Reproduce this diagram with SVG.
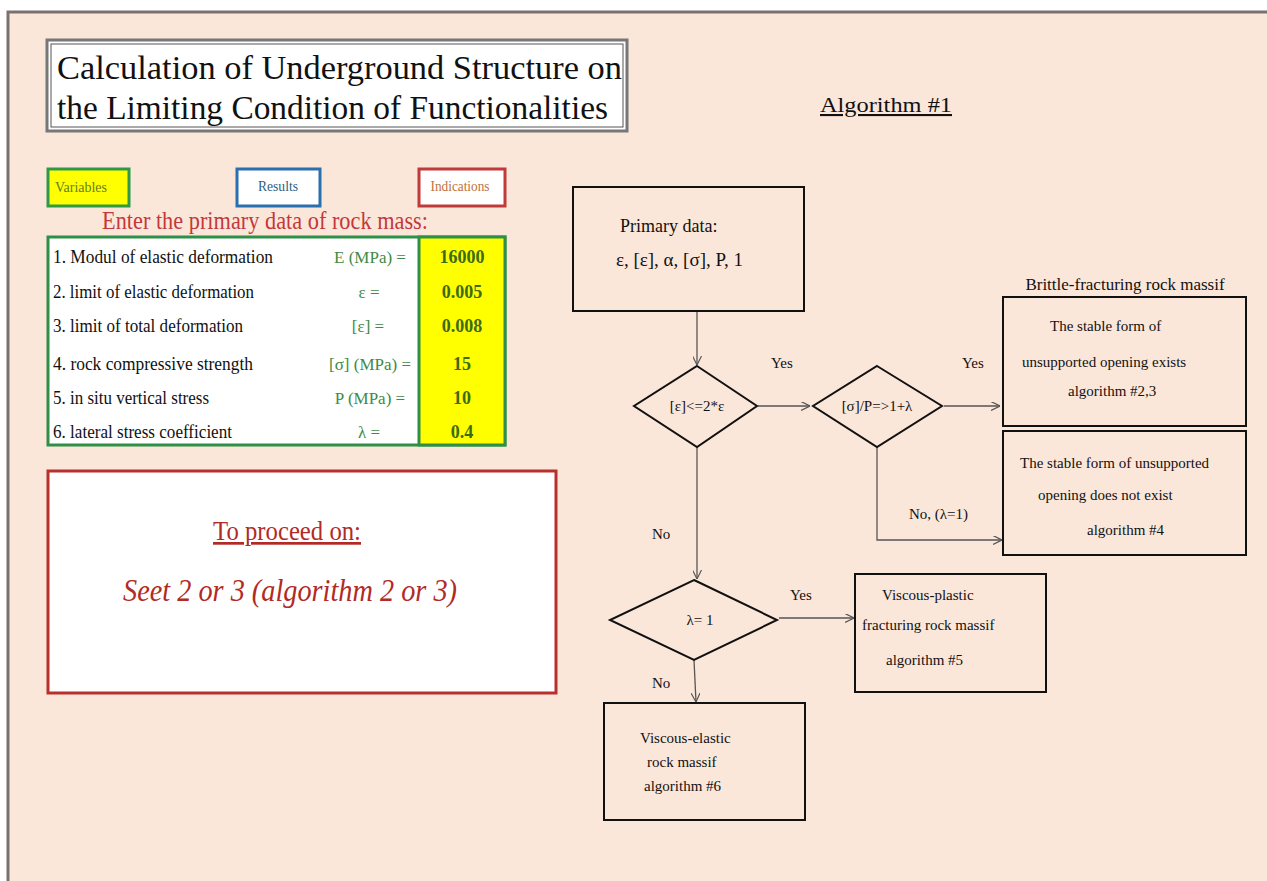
<svg xmlns="http://www.w3.org/2000/svg" width="1267" height="881" viewBox="0 0 1267 881" font-family="'Liberation Serif', 'Times New Roman', Times, serif">
<defs>
<style>
text{font-family:'Liberation Serif','Times New Roman',Times,serif;}
.lbl{font-size:18px;fill:#111;}
.sym{font-size:17px;fill:#3f8a45;text-anchor:middle;}
.val{font-size:18px;fill:#3d6b14;font-weight:bold;text-anchor:middle;}
.box{fill:none;stroke:#111;stroke-width:2;}
.dia{fill:none;stroke:#111;stroke-width:2;}
.fc{font-size:15px;fill:#111;}
.con{fill:none;stroke:#555;stroke-width:1.3;}
</style>
<marker id="ah" viewBox="0 0 10 10" refX="10" refY="5" markerWidth="9" markerHeight="9" orient="auto" markerUnits="userSpaceOnUse">
<path d="M0,0 L10,5 L0,10" fill="none" stroke="#555" stroke-width="1.3"/>
</marker>
</defs>
<rect x="0" y="0" width="1267" height="881" fill="#ffffff"/>
<rect x="8" y="12" width="1275" height="885" fill="#fbe7da" stroke="#7a7272" stroke-width="3"/>

<g id="title">
<rect x="47" y="40" width="580" height="91" fill="#fff" stroke="#777" stroke-width="3"/>
<rect x="51" y="44" width="572" height="83" fill="none" stroke="#555" stroke-width="1"/>
<text x="57" y="79" font-size="34" fill="#111" textLength="565" lengthAdjust="spacingAndGlyphs">Calculation of  Underground Structure on</text>
<text x="57" y="119" font-size="34" fill="#111" textLength="551" lengthAdjust="spacingAndGlyphs">the Limiting Condition of Functionalities</text>
</g>

<g id="algo-title">
<text x="820" y="112" font-size="21" fill="#111" text-decoration="underline" textLength="132" lengthAdjust="spacingAndGlyphs">Algorithm #1</text>
</g>

<g id="legend-variables">
<rect x="48" y="169" width="81" height="37" fill="#ffff00" stroke="#2e9a47" stroke-width="3"/>
<text x="55" y="192" font-size="15" fill="#5f7f22" textLength="52" lengthAdjust="spacingAndGlyphs">Variables</text>
</g>
<g id="legend-results">
<rect x="237" y="169" width="83" height="37" fill="#fff" stroke="#2a6fae" stroke-width="3"/>
<text x="278" y="191" font-size="15" fill="#2e5e80" text-anchor="middle" textLength="40" lengthAdjust="spacingAndGlyphs">Results</text>
</g>
<g id="legend-indications">
<rect x="419" y="169" width="86" height="37" fill="#fff" stroke="#c03a3a" stroke-width="3"/>
<text x="460" y="191" font-size="15" fill="#c0703a" text-anchor="middle" textLength="59" lengthAdjust="spacingAndGlyphs">Indications</text>
</g>

<g id="enter-heading">
<text x="102" y="229" font-size="25" fill="#c4373a" textLength="326" lengthAdjust="spacingAndGlyphs">Enter the primary data of rock mass:</text>
</g>

<g id="data-table">
<rect x="48" y="237" width="457" height="208" fill="#ffffff" stroke="#2e8f47" stroke-width="3"/>
<rect x="419" y="237" width="86" height="208" fill="#ffff00" stroke="#2e8f47" stroke-width="3"/>
<text class="lbl" x="53" y="263" textLength="220" lengthAdjust="spacingAndGlyphs">1.  Modul of elastic deformation</text>
<text class="lbl" x="53" y="298" textLength="201" lengthAdjust="spacingAndGlyphs">2. limit of elastic deformation</text>
<text class="lbl" x="53" y="332" textLength="190" lengthAdjust="spacingAndGlyphs">3.  limit of total deformation</text>
<text class="lbl" x="53" y="370" textLength="200" lengthAdjust="spacingAndGlyphs">4. rock compressive strength</text>
<text class="lbl" x="53" y="404" textLength="156" lengthAdjust="spacingAndGlyphs">5. in situ vertical stress</text>
<text class="lbl" x="53" y="438" textLength="179" lengthAdjust="spacingAndGlyphs">6. lateral stress coefficient</text>
<text class="sym" x="370" y="263">E (MPa) =</text>
<text class="sym" x="369" y="298">ε  =</text>
<text class="sym" x="368" y="332">[ε]  =</text>
<text class="sym" x="370" y="370">[σ] (MPa)  =</text>
<text class="sym" x="370" y="404">P (MPa) =</text>
<text class="sym" x="369" y="438">λ =</text>
<text class="val" x="462" y="263">16000</text>
<text class="val" x="462" y="298">0.005</text>
<text class="val" x="462" y="332">0.008</text>
<text class="val" x="462" y="370">15</text>
<text class="val" x="462" y="404">10</text>
<text class="val" x="462" y="438">0.4</text>
</g>

<g id="proceed-box">
<rect x="48" y="471" width="508" height="222" fill="#ffffff" stroke="#b8302c" stroke-width="3"/>
<text x="287" y="540" font-size="27" fill="#b22a26" text-anchor="middle" text-decoration="underline" textLength="148" lengthAdjust="spacingAndGlyphs">To proceed on:</text>
<text x="290" y="601" font-size="32" fill="#b22a26" text-anchor="middle" font-style="italic" textLength="334" lengthAdjust="spacingAndGlyphs">Seet 2 or 3 (algorithm 2 or 3)</text>
</g>

<g id="connectors">
<line class="con" x1="697" y1="311" x2="697" y2="365" marker-end="url(#ah)"/>
<line class="con" x1="758" y1="406" x2="810" y2="406" marker-end="url(#ah)"/>
<line class="con" x1="944" y1="406" x2="1000" y2="406" marker-end="url(#ah)"/>
<polyline class="con" points="877,447 877,540 1002,540" marker-end="url(#ah)"/>
<line class="con" x1="697" y1="447" x2="697" y2="579" marker-end="url(#ah)"/>
<line class="con" x1="779" y1="618" x2="854" y2="618" marker-end="url(#ah)"/>
<line class="con" x1="694" y1="660" x2="696" y2="702" marker-end="url(#ah)"/>
<text class="fc" x="771" y="368">Yes</text>
<text class="fc" x="962" y="368">Yes</text>
<text class="fc" x="909" y="519">No, (λ=1)</text>
<text class="fc" x="652" y="539">No</text>
<text class="fc" x="790" y="600">Yes</text>
<text class="fc" x="652" y="688">No</text>
</g>

<g id="primary-data">
<rect class="box" x="573" y="187" width="231" height="124"/>
<text x="620" y="232" font-size="18" fill="#111">Primary data:</text>
<text x="616" y="266" font-size="19" fill="#111">ε, [ε], α,  [σ],  P,  1</text>
</g>

<g id="decision-1">
<polygon class="dia" points="697,366 757,406 697,447 634,406"/>
<text class="fc" x="697" y="411" text-anchor="middle" font-size="13">[ε]&lt;=2*ε</text>
</g>

<g id="decision-2">
<polygon class="dia" points="877,366 942,406 877,447 813,406"/>
<text class="fc" x="877" y="411" text-anchor="middle" font-size="13">[σ]/P=&gt;1+λ</text>
</g>

<g id="brittle-label">
<text x="1125" y="290" font-size="17" fill="#111" text-anchor="middle">Brittle-fracturing rock massif</text>
</g>

<g id="stable-exists">
<rect class="box" x="1003" y="297" width="243" height="129"/>
<text class="fc" x="1050" y="331">The stable form  of</text>
<text class="fc" x="1022" y="367">unsupported opening exists</text>
<text class="fc" x="1068" y="396">algorithm #2,3</text>
</g>

<g id="stable-not-exists">
<rect class="box" x="1003" y="431" width="243" height="124"/>
<text class="fc" x="1020" y="468">The stable form  of unsupported</text>
<text class="fc" x="1038" y="500">opening does not  exist</text>
<text class="fc" x="1087" y="535">algorithm #4</text>
</g>

<g id="decision-3">
<polygon class="dia" points="694,580 777,620 694,660 610,620"/>
<text class="fc" x="700" y="625" text-anchor="middle">λ= 1</text>
</g>

<g id="viscous-plastic">
<rect class="box" x="855" y="574" width="191" height="118"/>
<text class="fc" x="882" y="600">Viscous-plastic</text>
<text class="fc" x="862" y="630">fracturing rock massif</text>
<text class="fc" x="886" y="665">algorithm #5</text>
</g>

<g id="viscous-elastic">
<rect class="box" x="604" y="703" width="201" height="117"/>
<text class="fc" x="640" y="743">Viscous-elastic</text>
<text class="fc" x="647" y="767">rock massif</text>
<text class="fc" x="644" y="791">algorithm #6</text>
</g>
</svg>
